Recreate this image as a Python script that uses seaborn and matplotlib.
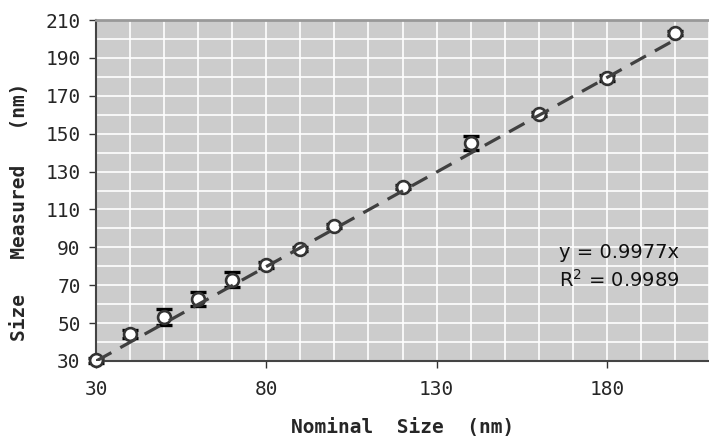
import matplotlib
matplotlib.use("Agg")
import matplotlib.pyplot as plt
import seaborn as sns
import numpy as np
import pandas as pd

nominal = [30, 40, 50, 60, 70, 80, 90, 100, 120, 140, 160, 180, 200]
measured = [30.3, 44.3, 53.2, 62.7, 72.8, 80.7, 89.0, 101.3, 121.9, 145.1, 160.4, 179.4, 203.0]
err = [1.5, 2.0, 4.0, 3.5, 4.0, 1.5, 1.0, 1.0, 1.0, 3.5, 1.0, 1.5, 1.0]
slope = 0.9977
r2 = 0.9989

df = pd.DataFrame({"nominal": nominal, "measured": measured, "err": err})

sns.set_theme(style="white")
plt.rcParams['font.family'] = ['DejaVu Sans Mono', 'DejaVu Sans']

fig = plt.figure(figsize=(7.09, 4.37), dpi=100)
ax = fig.add_axes([96/709, 1-361/437, 1-96/709, (361-20)/437])
ax.set_facecolor("#cccccc")

ax.errorbar(df["nominal"], df["measured"], yerr=df["err"], fmt="none",
            ecolor="black", elinewidth=1.2, capsize=6, capthick=2.4, zorder=2,
            clip_on=False)
sns.scatterplot(data=df, x="nominal", y="measured", ax=ax, s=85,
                color="white", edgecolor="#333333", linewidth=1.9, zorder=3,
                clip_on=False)
xs = np.array([nominal[0], nominal[-1]])
ax.plot(xs, slope*xs, linestyle=(0, (5.5, 3.2)), color="#404040", linewidth=2.3, zorder=5)

ax.set_xlim(30, 210)
ax.set_ylim(30, 210)
ax.set_xticks([30, 80, 130, 180])
ax.set_yticks(np.arange(30, 211, 20))
ax.set_xticks(np.arange(30, 211, 10), minor=True)
ax.set_yticks(np.arange(30, 211, 10), minor=True)
ax.grid(True, which="both", color="white", linewidth=1.2)
ax.set_axisbelow(True)
ax.tick_params(axis="both", which="major", labelsize=14, length=5, width=1,
               color="#333333", direction="out", bottom=True, left=True, pad=6)
ax.tick_params(axis="x", which="major", pad=9)
ax.tick_params(axis="both", which="minor", length=0)
for side in ["left", "bottom"]:
    ax.spines[side].set_color("#444444")
    ax.spines[side].set_linewidth(1.5)
ax.spines["top"].set_color("#999999")
ax.spines["top"].set_linewidth(2)
ax.spines["right"].set_visible(False)

ax.set_xlabel("Nominal  Size  (nm)", fontsize=14, fontweight="bold", labelpad=13)
ax.set_ylabel("Size   Measured   (nm)", fontsize=14, fontweight="bold")
ax.yaxis.set_label_coords(-67/613, (361-212)/341)

ax.text(0.755, 0.276, f"y = {slope}x\nR$^2$ = {r2}", transform=ax.transAxes,
        fontsize=14, family="DejaVu Sans", color="#111111", va="center", ha="left",
        linespacing=1.4)

fig.savefig("out.png", dpi=100)
